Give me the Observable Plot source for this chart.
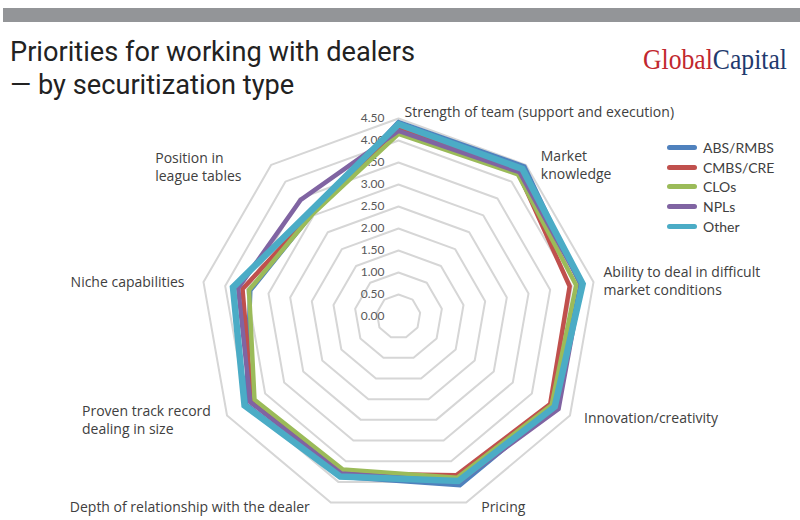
<!DOCTYPE html>
<html><head><meta charset="utf-8">
<script src="https://cdn.jsdelivr.net/npm/d3@7"></script>
<script src="https://cdn.jsdelivr.net/npm/@observablehq/plot@0.6"></script>
<style>
html,body{margin:0;padding:0;background:#fff;}
#wrap{position:relative;width:800px;height:520px;overflow:hidden;font-family:Lato,"Open Sans",sans-serif;}
#bar{position:absolute;left:3px;top:8px;width:797px;height:14px;background:#939598;}
.title{position:absolute;left:10px;font-family:Roboto,sans-serif;font-size:28px;color:#222;white-space:nowrap;transform-origin:0 0;line-height:normal;}
#logo{position:absolute;left:643px;top:44px;font-family:"Liberation Serif",serif;font-size:30px;white-space:nowrap;transform-origin:0 0;line-height:1;}
#logo .g{color:#c1272d;} #logo .c{color:#1f3a6e;}
#chart{position:absolute;left:0;top:0;}
#legend{position:absolute;left:667px;top:138px;font-size:14px;color:#404040;}
.row{height:19.6px;display:flex;align-items:center;white-space:nowrap;}
.sw{width:30px;height:5px;border-radius:3px;margin-right:6px;}
</style></head><body>
<div id="wrap">
  <div id="bar"></div>
  <div id="chart"></div>
  <div class="title" id="t1" style="top:34.5px">Priorities for working with dealers</div>
  <div class="title" id="t2" style="top:67.5px">— by securitization type</div>
  <div id="logo"><span class="g">Global</span><span class="c">Capital</span></div>
  <div id="legend"></div>
</div>
<script>
const axisLabels = [
  "Strength of team (support and execution)",
  "Market\nknowledge",
  "Ability to deal in difficult\nmarket conditions",
  "Innovation/creativity",
  "Pricing",
  "Depth of relationship with the dealer",
  "Proven track record\ndealing in size",
  "Niche capabilities",
  "Position in\nleague tables"
];
const seriesNames = ["ABS/RMBS", "CMBS/CRE", "CLOs", "NPLs", "Other"];
const seriesColors = ["#4F81BD", "#C0504D", "#9BBB59", "#8064A2", "#4BACC6"];
const absRmbs = [4.42, 4.45, 4.20, 4.10, 4.08, 3.88, 4.00, 3.42, 3.05];
const cmbsCre = [4.30, 4.25, 3.95, 3.98, 3.84, 3.80, 3.85, 3.60, 3.05];
const clos    = [4.15, 4.22, 4.10, 4.02, 3.90, 3.70, 3.78, 3.45, 3.04];
const npls    = [4.22, 4.28, 4.22, 4.20, 4.00, 3.80, 3.89, 3.70, 3.46];
const other   = [4.37, 4.38, 4.25, 4.10, 3.98, 3.87, 4.04, 3.82, 3.12];
const tickLevels = [0, 0.5, 1, 1.5, 2, 2.5, 3, 3.5, 4, 4.5];
const maxValue = 4.5;

// label placement (style): anchor and pixel offsets from the outer vertex
const labelLayout = [
  {anchor: "start", dx: 6, dy: -7},
  {anchor: "start", dx: 15, dy: -1},
  {anchor: "start", dx: 10, dy: -2},
  {anchor: "start", dx: 14, dy: 2},
  {anchor: "start", dx: 15, dy: 4},
  {anchor: "end", dx: -21, dy: 4},
  {anchor: "start", dx: -145, dy: 4},
  {anchor: "end", dx: -19, dy: -1},
  {anchor: "start", dx: -116, dy: 1}
];

const n = axisLabels.length;
const ang = i => 2 * Math.PI * (i % n) / n;
const px = (v, i) => v * Math.sin(ang(i));
const py = (v, i) => v * Math.cos(ang(i));

const seriesValues = [absRmbs, cmbsCre, clos, npls, other];
const seriesPts = [];
seriesValues.forEach((vals, s) => {
  for (let i = 0; i <= n; i++) {
    const v = vals[i % n];
    seriesPts.push({series: seriesNames[s], i, value: v, x: px(v, i), y: py(v, i)});
  }
});
const gridPts = [];
tickLevels.filter(l => l > 0).forEach(l => {
  for (let i = 0; i <= n; i++) gridPts.push({level: l, x: px(l, i), y: py(l, i)});
});

const k = 44; // px per unit
const marks = [
  Plot.line(gridPts, {x: "x", y: "y", z: "level", stroke: "#d6d6d6", strokeWidth: 2}),
  Plot.text(tickLevels, {x: 0, y: d => d, text: d => d.toFixed(2), textAnchor: "end", dx: -14, fontSize: 12, fill: "#595959"})
];
seriesNames.forEach((s, si) => {
  marks.push(Plot.line(seriesPts.filter(d => d.series === s), {
    x: "x", y: "y", stroke: "series",
    strokeWidth: s === "Other" ? 6.5 : 4.5,
    strokeLinejoin: "miter", strokeMiterlimit: 4
  }));
});
axisLabels.forEach((lab, i) => {
  const L = labelLayout[i];
  marks.push(Plot.text([i], {
    x: d => px(maxValue, d), y: d => py(maxValue, d), text: d => axisLabels[d],
    textAnchor: L.anchor, dx: L.dx, dy: L.dy, fontSize: 14, fill: "#404040", lineHeight: 1.3,
    fontFamily: "'Open Sans', Lato, sans-serif"
  }));
});

const chart = Plot.plot({
  width: 800, height: 520, margin: 0,
  x: {domain: [-398 / k, 402 / k], range: [0, 800], axis: null},
  y: {domain: [-204 / k, 316 / k], range: [520, 0], axis: null},
  color: {domain: seriesNames, range: seriesColors},
  style: {fontFamily: "Lato, 'Open Sans', sans-serif", background: "transparent", overflow: "visible"},
  marks
});
document.getElementById("chart").appendChild(chart);

const legend = document.getElementById("legend");
seriesNames.forEach((s, i) => {
  const r = document.createElement("div");
  r.className = "row";
  r.innerHTML = `<div class="sw" style="background:${seriesColors[i]}"></div><span>${s}</span>`;
  legend.appendChild(r);
});

const t1 = document.getElementById("t1"), t2 = document.getElementById("t2");
const sx = 405 / t1.getBoundingClientRect().width;
t1.style.transform = t2.style.transform = `scaleX(${sx})`;
const logo = document.getElementById("logo");
logo.style.transform = `scaleX(${144 / logo.getBoundingClientRect().width})`;
</script>
</body></html>
